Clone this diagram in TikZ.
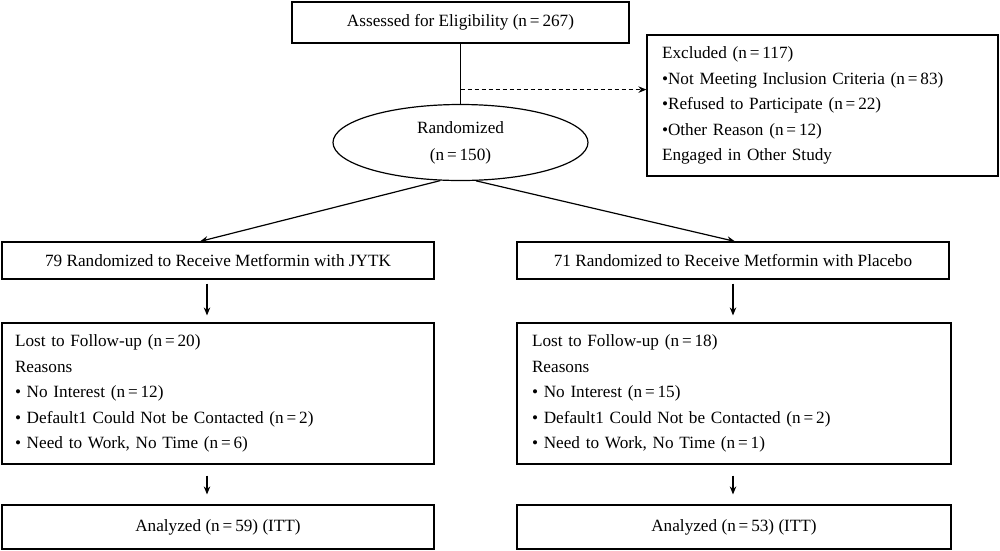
\documentclass[tikz,border=0pt]{standalone}
\usepackage{fontspec}
\setmainfont{Liberation Serif}
\usetikzlibrary{arrows.meta,shapes.geometric,calc}
\newcommand{\eq}{\,=\,}
\begin{document}
\begin{tikzpicture}[x=1pt,y=-1pt,
  font=\fontsize{17.2}{25.5}\selectfont,
  box/.style={draw, line width=1.2pt, inner sep=0pt, anchor=center},
  arr/.style={line width=1.2pt, -{Stealth[length=8pt,width=6.5pt]}},
  conn/.style={line width=1.2pt}]
\useasboundingbox (0,0) rectangle (1000,550);

\node[box, minimum width=337, minimum height=41] (assess) at (460.5,22.5) {Assessed for Eligibility (n\eq 267)};

\node[box, minimum width=351, minimum height=141, text width=321, align=left] (excl) at (822.5,105.5)
 {Excluded (n\eq 117)\\
  \textbullet Not Meeting Inclusion Criteria (n\eq 83)\\
  \textbullet Refused to Participate (n\eq 22)\\
  \textbullet Other Reason (n\eq 12)\\
  Engaged in Other Study};

\node[draw, line width=1.2pt, ellipse, minimum width=255, minimum height=76, inner sep=0pt, align=center,
  font=\fontsize{17.2}{27}\selectfont] (rand) at (460.5,142.5) {Randomized\\(n\eq 150)};

\node[box, minimum width=432, minimum height=37] (jytk) at (218,260.5) {79 Randomized to Receive Metformin with JYTK};
\node[box, minimum width=432, minimum height=37] (pla) at (733,260.5) {71 Randomized to Receive Metformin with Placebo};

\node[box, minimum width=432, minimum height=141, text width=406, align=left] (lost1) at (218,393.5)
 {Lost to Follow-up (n\eq 20)\\
  Reasons\\
  \textbullet{} No Interest (n\eq 12)\\
  \textbullet{} Default1 Could Not be Contacted (n\eq 2)\\
  \textbullet{} Need to Work, No Time (n\eq 6)};
\node[box, minimum width=434, minimum height=141, text width=404, align=left] (lost2) at (734,393.5)
 {Lost to Follow-up (n\eq 18)\\
  Reasons\\
  \textbullet{} No Interest (n\eq 15)\\
  \textbullet{} Default1 Could Not be Contacted (n\eq 2)\\
  \textbullet{} Need to Work, No Time (n\eq 1)};

\node[box, minimum width=432, minimum height=44] (an1) at (218,527) {Analyzed (n\eq 59) (ITT)};
\node[box, minimum width=434, minimum height=44] (an2) at (734,527) {Analyzed (n\eq 53) (ITT)};

\coordinate (d) at ($(assess.south)+(0,46)$);
\draw[conn] (assess.south) -- (rand.north);
\draw[conn, dashed, dash pattern=on 4pt off 3pt, -{Stealth[length=8pt,width=6.5pt]}] (d) -- (excl.west |- d);

\draw[arr] (rand.242) -- ($(jytk.north)+(-18,0)$);
\draw[arr] (rand.292) -- ($(pla.north)+(2,0)$);

\draw[arr] ($(jytk.south)+(-11,4)$) -- ($(lost1.north)+(-11,-7)$);
\draw[arr] ($(pla.south)+(0,4)$) -- ($(lost2.north)+(-1,-7)$);

\draw[arr] ($(lost1.south)+(-11,11)$) -- ($(an1.north)+(-11,-10)$);
\draw[arr] ($(lost2.south)+(-1,11)$) -- ($(an2.north)+(-1,-10)$);
\end{tikzpicture}
\end{document}
